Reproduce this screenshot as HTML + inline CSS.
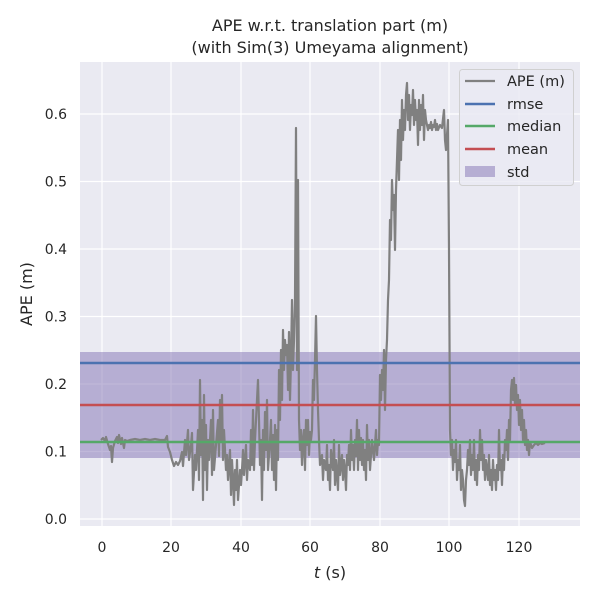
<!DOCTYPE html>
<html><head><meta charset="utf-8"><style>
body{margin:0;background:#fff;}
svg text{font-family:"DejaVu Sans","Liberation Sans",sans-serif;fill:#262626;}
</style></head><body>
<svg width="600" height="600" viewBox="0 0 600 600" xmlns="http://www.w3.org/2000/svg">
<rect x="0" y="0" width="600" height="600" fill="#fff"/>
<rect x="80" y="62" width="500" height="464" fill="#eaeaf2"/>
<g stroke="#fff" stroke-width="1.2">
<line x1="102" y1="62" x2="102" y2="526"/><line x1="171" y1="62" x2="171" y2="526"/>
<line x1="241" y1="62" x2="241" y2="526"/><line x1="310" y1="62" x2="310" y2="526"/>
<line x1="380" y1="62" x2="380" y2="526"/><line x1="449" y1="62" x2="449" y2="526"/>
<line x1="519" y1="62" x2="519" y2="526"/>
<line x1="80" y1="519" x2="580" y2="519"/><line x1="80" y1="451.5" x2="580" y2="451.5"/>
<line x1="80" y1="384" x2="580" y2="384"/><line x1="80" y1="316.5" x2="580" y2="316.5"/>
<line x1="80" y1="249" x2="580" y2="249"/><line x1="80" y1="181.5" x2="580" y2="181.5"/>
<line x1="80" y1="114" x2="580" y2="114"/>
</g>
<rect x="80" y="352" width="500" height="106" fill="#8172b3" fill-opacity="0.5"/>
<polyline fill="none" stroke="#808080" stroke-width="2.2" stroke-linejoin="round" points="
101,440 103,438 105,441 106,437 108,444 110,450 111,446 112,462 113,448 115,441 117,437 118,443 119,435 121,444 122,438 124,448 125,440 127,441 130,440 135,439 140,440 145,439 150,440 155,439 160,440 165,440 167,436 168,447 170,452 172,460 174,466 176,462 178,465 180,461 182,452 183,466 185,440 186,455 188,430 189,460 191,445 192,433 193,490 195,455 196,470 198,430 199,480 200,380 201,455 202,420 203,500 204,395 205,470 206,425 207,490 208,440 209,460 211,420 212,475 213,410 214,470 216,445 218,420 219,456 220,400 221,440 222,395 223,460 224,430 226,470 227,455 228,480 230,450 231,495 232,460 233,480 234,505 235,470 236,490 237,460 238,500 240,470 241,485 242,470 243,450 244,475 246,445 247,480 248,460 250,470 251,430 252,465 253,410 254,470 255,440 257,400 258,380 259,420 260,465 261,440 262,500 263,430 264,470 265,412 266,450 267,400 268,470 270,440 271,420 272,470 273,435 274,480 275,425 276,490 277,430 278,460 279,370 280,420 281,350 282,400 283,330 284,370 285,340 286,355 287,345 288,390 289,332 290,400 291,360 292,300 293,370 294,340 295,300 296,128 297,370 298,180 299,420 300,450 301,430 302,465 303,440 304,430 305,470 306,420 307,445 308,420 309,455 310,432 311,440 312,430 313,380 314,400 315,360 316,316 317,370 318,410 319,440 320,465 322,455 323,480 324,460 326,470 327,445 328,480 329,465 330,490 331,450 333,470 334,440 335,485 336,460 338,490 339,445 340,475 342,455 343,480 344,460 345,470 346,490 347,455 348,465 349,445 350,470 351,430 352,460 353,445 354,470 355,440 356,456 357,420 358,470 359,430 360,460 361,438 362,465 363,440 364,470 365,450 366,480 367,425 368,460 369,440 370,470 372,440 373,450 374,460 376,430 377,455 378,440 379,445 380,375 381,400 382,370 383,390 384,350 385,410 386,360 387,340 388,300 389,280 390,220 391,240 392,180 393,210 394,195 395,250 396,190 397,160 398,130 399,180 400,120 401,160 402,100 403,140 404,110 405,130 406,95 407,83 408,120 409,95 410,130 411,105 412,115 413,90 414,125 415,100 416,120 417,110 418,145 419,100 420,130 421,105 422,125 423,95 424,140 425,110 426,120 427,125 428,130 429,125 430,128 431,122 432,130 433,125 434,127 435,120 436,130 437,124 438,130 440,125 442,128 444,110 445,140 446,150 447,135 448,120 449,250 450,430 451,455 452,440 453,470 454,450 455,462 456,440 457,480 458,460 459,470 460,445 461,490 462,470 463,480 464,500 465,506 466,480 467,470 468,450 469,465 470,440 471,475 472,455 473,470 474,440 475,480 476,460 477,485 478,455 479,470 480,430 481,460 482,440 483,470 484,455 485,480 486,460 487,470 488,480 489,455 490,485 491,470 492,490 493,460 494,480 495,470 496,490 497,465 498,480 499,430 500,470 501,460 502,485 503,455 504,470 505,440 506,450 507,430 508,460 509,420 510,440 511,390 512,380 513,400 514,378 515,405 516,385 517,410 518,395 519,425 520,400 521,430 522,410 523,440 524,420 525,445 526,430 527,450 528,440 529,455 530,442 532,448 534,445 536,443 538,445 540,443 542,444 545,443"/>
<line x1="80" y1="363" x2="580" y2="363" stroke="#4c72b0" stroke-width="2.6"/>
<line x1="80" y1="405" x2="580" y2="405" stroke="#c44e52" stroke-width="2.6"/>
<line x1="80" y1="442" x2="580" y2="442" stroke="#55a868" stroke-width="2.6"/>
<g font-size="14" text-anchor="middle">
<text x="102" y="552">0</text><text x="171" y="552">20</text><text x="241" y="552">40</text>
<text x="310" y="552">60</text><text x="380" y="552">80</text><text x="449" y="552">100</text><text x="519" y="552">120</text>
</g>
<g font-size="14" text-anchor="end">
<text x="67" y="524">0.0</text><text x="67" y="456.5">0.1</text><text x="67" y="389">0.2</text>
<text x="67" y="321.5">0.3</text><text x="67" y="254">0.4</text><text x="67" y="186.5">0.5</text><text x="67" y="119">0.6</text>
</g>
<text x="330" y="578" font-size="16" text-anchor="middle"><tspan font-style="italic">t</tspan> (s)</text>
<text x="32" y="294" font-size="16" text-anchor="middle" transform="rotate(-90 32 294)">APE (m)</text>
<text x="330" y="31" font-size="16" text-anchor="middle">APE w.r.t. translation part (m)</text>
<text x="330" y="53" font-size="16" text-anchor="middle">(with Sim(3) Umeyama alignment)</text>
<rect x="459.5" y="69.5" width="114" height="116" rx="3" fill="#eaeaf2" fill-opacity="0.8" stroke="#d0d0d0"/>
<line x1="465" y1="81" x2="495" y2="81" stroke="#808080" stroke-width="2.2"/>
<line x1="465" y1="104" x2="495" y2="104" stroke="#4c72b0" stroke-width="2.6"/>
<line x1="465" y1="126" x2="495" y2="126" stroke="#55a868" stroke-width="2.6"/>
<line x1="465" y1="149" x2="495" y2="149" stroke="#c44e52" stroke-width="2.6"/>
<rect x="465" y="166" width="30" height="11" fill="#8172b3" fill-opacity="0.5"/>
<g font-size="14.5">
<text x="507" y="86">APE (m)</text><text x="507" y="109">rmse</text><text x="507" y="131">median</text>
<text x="507" y="154">mean</text><text x="507" y="177">std</text>
</g>
</svg>
</body></html>
